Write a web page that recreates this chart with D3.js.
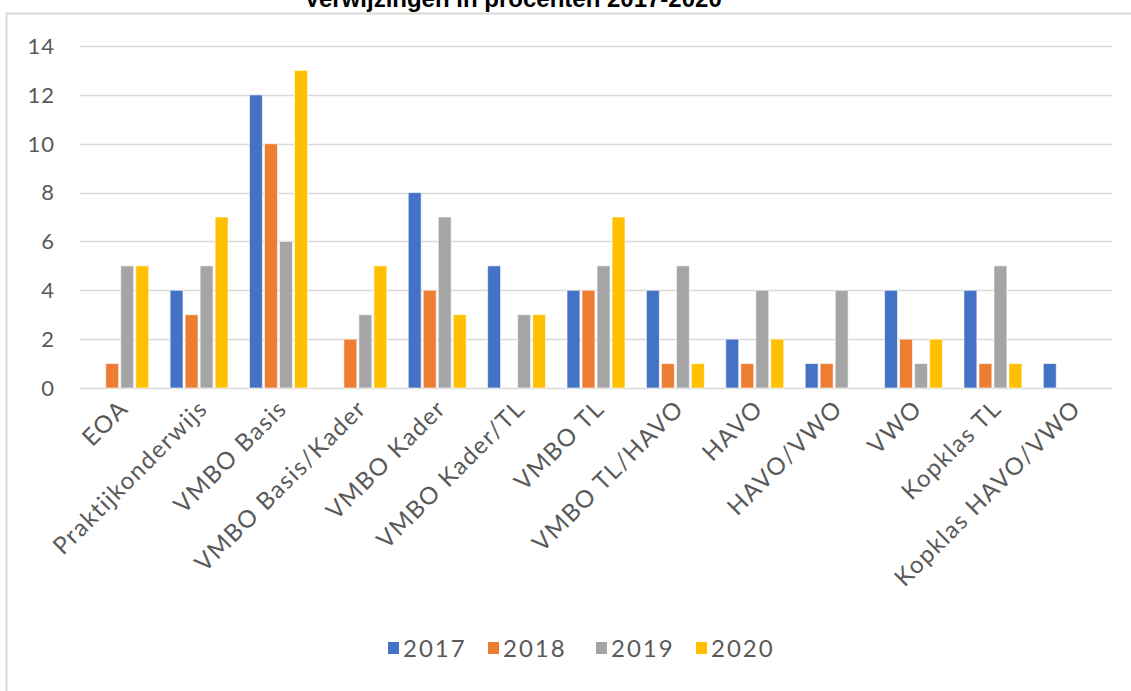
<!DOCTYPE html>
<html>
<head>
<meta charset="utf-8">
<script src="https://cdn.jsdelivr.net/npm/d3@7"></script>
<style>
  body { margin: 0; background: #fff; }
  svg { display: block; }
</style>
</head>
<body>
<div class="vis-barchart"></div>
<script>
// data
const categories = ["EOA", "Praktijkonderwijs", "VMBO Basis", "VMBO Basis/Kader", "VMBO Kader",
    "VMBO Kader/TL", "VMBO TL", "VMBO TL/HAVO", "HAVO", "HAVO/VWO", "VWO", "Kopklas TL", "Kopklas HAVO/VWO"];
const years = ["2017", "2018", "2019", "2020"];
const values2017 = [0, 4, 12, 0, 8, 5, 4, 4, 2, 1, 4, 4, 1];
const values2018 = [1, 3, 10, 2, 4, 0, 4, 1, 1, 1, 2, 1, 0];
const values2019 = [5, 5, 6, 3, 7, 3, 5, 5, 4, 4, 1, 5, 0];
const values2020 = [5, 7, 13, 5, 3, 3, 7, 1, 2, 0, 2, 1, 0];
const yTicks = [0, 2, 4, 6, 8, 10, 12, 14];
const title = "Verwijzingen in procenten 2017-2020";

const colors = ["#4472C4", "#ED7D31", "#A5A5A5", "#FFC000"];
const seriesValues = [values2017, values2018, values2019, values2020];

const W = 1131, H = 691;
const margin = {top: 46, right: 19, bottom: 303, left: 80};
const width = W - margin.left - margin.right;
const height = H - margin.top - margin.bottom;
const font = "Lato, 'Open Sans', sans-serif";

const svg = d3.select(".vis-barchart")
    .append("svg")
    .attr("width", W)
    .attr("height", H);

// frame (the picture is a cropped chart box)
svg.append("line")
    .attr("x1", 6.5).attr("x2", W).attr("y1", 13.5).attr("y2", 13.5)
    .attr("stroke", "#d9d9d9").attr("stroke-width", 2);
svg.append("line")
    .attr("x1", 6.5).attr("x2", 6.5).attr("y1", 13).attr("y2", H)
    .attr("stroke", "#d9d9d9").attr("stroke-width", 2);

// title, cut off at the top like in the picture
svg.append("text")
    .attr("x", 513)
    .attr("y", 7)
    .attr("text-anchor", "middle")
    .style("font-family", "Liberation Sans, Arial, sans-serif")
    .style("font-weight", "bold")
    .style("font-size", "24px")
    .attr("fill", "#000")
    .text(title);

const g = svg.append("g")
    .attr("transform", `translate(${margin.left},${margin.top})`);

const x = d3.scaleBand()
    .domain(categories)
    .range([0, width])
    .paddingInner(0.27)
    .paddingOuter(0.135);

const x1 = d3.scaleBand()
    .domain(years)
    .range([0, x.bandwidth()])
    .paddingInner(0.14);

const y = d3.scaleLinear()
    .domain([0, 14])
    .range([height, 0]);

// gridlines
g.append("g")
    .selectAll("line")
    .data(yTicks)
    .enter().append("line")
    .attr("x1", 0).attr("x2", width)
    .attr("y1", d => Math.round(y(d)) + 0.5)
    .attr("y2", d => Math.round(y(d)) + 0.5)
    .attr("stroke", "#d9d9d9")
    .attr("stroke-width", 1.5);

// y tick labels
g.append("g")
    .selectAll("text")
    .data(yTicks)
    .enter().append("text")
    .attr("x", -25)
    .attr("y", d => y(d))
    .attr("dy", "0.36em")
    .attr("text-anchor", "end")
    .style("font-family", font)
    .style("font-size", "22px")
    .style("letter-spacing", "1px")
    .attr("fill", "#595959")
    .text(d => d);

// bars
const groups = g.selectAll(".cat")
    .data(categories)
    .enter().append("g")
    .attr("class", "cat")
    .attr("transform", d => `translate(${x(d)},0)`);

groups.selectAll("rect")
    .data((d, i) => years.map((yr, j) => ({year: yr, value: seriesValues[j][i], k: j})))
    .enter().append("rect")
    .filter(d => d.value > 0)
    .attr("x", d => x1(d.year))
    .attr("width", x1.bandwidth())
    .attr("y", d => y(d.value))
    .attr("height", d => y(0) - y(d.value))
    .attr("fill", d => colors[d.k])
    .attr("stroke", "#fff")
    .attr("stroke-opacity", 0.6)
    .attr("stroke-width", 1);

// x labels, rotated
g.append("g")
    .selectAll("text")
    .data(categories)
    .enter().append("text")
    .attr("transform", d => `translate(${x(d) + x.bandwidth() / 2 + 10},${height + 22}) rotate(-45)`)
    .attr("text-anchor", "end")
    .style("font-family", font)
    .style("font-size", "24px")
    .style("letter-spacing", "1.5px")
    .attr("fill", "#595959")
    .text(d => d);

// legend
const legendX = [388, 488, 596, 696];
const legend = svg.append("g")
    .attr("transform", "translate(0,648)");
const items = legend.selectAll("g")
    .data(years)
    .enter().append("g")
    .attr("transform", (d, i) => `translate(${legendX[i]},0)`);
items.append("rect")
    .attr("y", -6)
    .attr("width", 11)
    .attr("height", 12)
    .attr("fill", (d, i) => colors[i]);
items.append("text")
    .attr("x", 15)
    .attr("y", 0)
    .attr("dy", "0.36em")
    .style("font-family", font)
    .style("font-size", "24px")
    .style("letter-spacing", "2px")
    .attr("fill", "#595959")
    .text(d => d);
</script>
</body>
</html>
